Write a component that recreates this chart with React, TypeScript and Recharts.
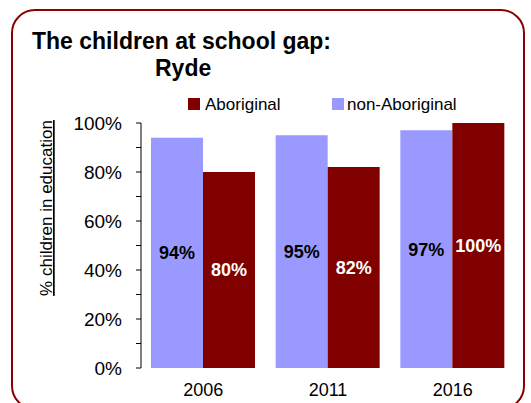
import React from 'react';
import { BarChart, Bar, XAxis, YAxis, LabelList } from 'recharts';

const years = ['2006', '2011', '2016'];
const nonAboriginal = [94, 95, 97];
const aboriginal = [80, 82, 100];
const yTicks = [0, 10, 20, 30, 40, 50, 60, 70, 80, 90, 100];

const NON_COLOR = '#9999FF';
const AB_COLOR = '#800000';

const data = years.map((y, i) => ({ year: y, nonAboriginal: nonAboriginal[i], aboriginal: aboriginal[i] }));

const FONT = '"Liberation Sans", Arial, sans-serif';

const legendItems = [
  { name: 'Aboriginal', color: AB_COLOR, sq: 188, tx: 205 },
  { name: 'non-Aboriginal', color: NON_COLOR, sq: 332, tx: 347 },
];

const YLabel = () => (
  <text
    x={52}
    y={208}
    transform="rotate(-90, 52, 208)"
    textAnchor="middle"
    fontFamily={FONT}
    fontSize={17}
    fill="#000"
    textDecoration="underline"
  >
    % children in education
  </text>
);

export default function App() {
  return (
    <div style={{ position: 'absolute', left: 0, top: 0, width: 531, height: 403, background: '#fff', overflow: 'hidden' }}>
      <div style={{ position: 'absolute', left: 11, top: 9, width: 514, height: 401, border: '2px solid #8B0000', borderRadius: 24, boxSizing: 'border-box' }} />
      <svg style={{ position: 'absolute', left: 0, top: 0 }} width={531} height={120}>
        <text x={32} y={49} fontFamily={FONT} fontWeight="bold" fontSize={23} fill="#000">The children at school gap:</text>
        <text x={155} y={76} fontFamily={FONT} fontWeight="bold" fontSize={23} fill="#000">Ryde</text>
        {legendItems.map((it) => (
          <g key={it.name}>
            <rect x={it.sq} y={98} width={12} height={12} fill={it.color} />
            <text x={it.tx} y={110} fontFamily={FONT} fontSize={17} fill="#000">{it.name}</text>
          </g>
        ))}
      </svg>
      <div style={{ position: 'absolute', left: 0, top: 0 }}>
        <BarChart
          width={531}
          height={403}
          data={data}
          margin={{ top: 123, right: 16, bottom: 10, left: 81 }}
          barCategoryGap={10}
          barGap={0}
        >
          <XAxis
            dataKey="year"
            axisLine={false}
            tickLine={false}
            tickSize={0}
            tickMargin={15}
            height={25}
            tick={{ fill: '#000', fontSize: 18, fontFamily: FONT }}
          />
          <YAxis
            width={60}
            domain={[0, 100]}
            ticks={yTicks}
            interval={0}
            tickSize={5}
            tickMargin={14}
            axisLine={{ stroke: '#000' }}
            tickLine={{ stroke: '#000' }}
            tick={{ fill: '#000', fontSize: 19, fontFamily: FONT }}
            tickFormatter={(v: number) => (v % 20 === 0 ? `${v}%` : '')}
            label={<YLabel />}
          />
          <Bar dataKey="nonAboriginal" name="non-Aboriginal" fill={NON_COLOR} isAnimationActive={false}>
            <LabelList
              dataKey="nonAboriginal"
              position="center"
              formatter={(v: number) => `${v}%`}
              fill="#000"
              style={{ fontWeight: 'bold', fontSize: 18, fontFamily: FONT }}
            />
          </Bar>
          <Bar dataKey="aboriginal" name="Aboriginal" fill={AB_COLOR} isAnimationActive={false}>
            <LabelList
              dataKey="aboriginal"
              position="center"
              formatter={(v: number) => `${v}%`}
              fill="#fff"
              style={{ fontWeight: 'bold', fontSize: 18, fontFamily: FONT }}
            />
          </Bar>
        </BarChart>
      </div>
    </div>
  );
}
